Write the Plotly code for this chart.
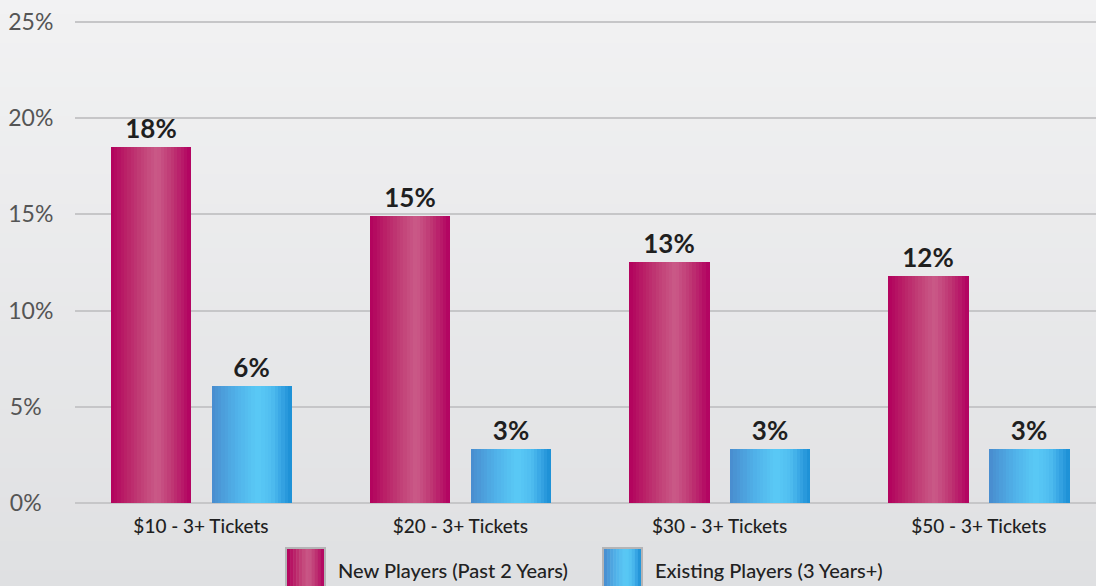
import plotly.graph_objects as go

# ---------------- data ----------------
categories = ["$10 - 3+ Tickets", "$20 - 3+ Tickets", "$30 - 3+ Tickets", "$50 - 3+ Tickets"]
new_players = [18.5, 14.9, 12.5, 11.8]
new_labels = ["18%", "15%", "13%", "12%"]
existing_players = [6.1, 2.8, 2.8, 2.8]
existing_labels = ["6%", "3%", "3%", "3%"]
series_names = ["New Players (Past 2 Years)", "Existing Players (3 Years+)"]
y_tickvals = [0, 5, 10, 15, 20, 25]
y_ticktext = ["0%", "5%", "10%", "15%", "20%", "25%"]

# ---------------- style ----------------
FONT = "Lato"
W = 0.308          # bar width in category units
GAP = 0.081        # gap between paired bars
N_SLICES = 24
M_T, M_B, M_L = 18, 81, 75
PLOT_H = 586 - M_T - M_B
PLOT_W = 1096 - M_L

mag_stops = [(0.0, (178, 0, 93)), (0.2, (186, 34, 104)), (0.4, (194, 66, 120)),
             (0.58, (202, 90, 136)), (0.78, (190, 52, 114)), (1.0, (178, 0, 96))]
blu_stops = [(0.0, (72, 140, 206)), (0.3, (80, 176, 232)), (0.58, (90, 202, 246)),
             (0.75, (80, 190, 240)), (0.9, (50, 160, 225)), (1.0, (26, 142, 212))]


def interp(stops, t):
    for (t0, c0), (t1, c1) in zip(stops[:-1], stops[1:]):
        if t0 <= t <= t1:
            f = (t - t0) / (t1 - t0) if t1 > t0 else 0
            c = [round(a + (b - a) * f) for a, b in zip(c0, c1)]
            return "rgb(%d,%d,%d)" % tuple(c)
    c = stops[-1][1]
    return "rgb(%d,%d,%d)" % c


fig = go.Figure()


def add_series(values, labels, offset, stops):
    # base bar with value labels
    fig.add_trace(go.Bar(
        x=categories, y=values, width=W, offset=offset,
        marker=dict(color=interp(stops, 0.0), line=dict(width=0)),
        text=labels, textposition="outside", constraintext="none",
        textfont=dict(family=FONT, size=26, color="#1f1f1f", weight="bold"),
        cliponaxis=False, showlegend=False, hoverinfo="skip",
    ))
    sw = W / N_SLICES
    for i in range(N_SLICES):
        fig.add_trace(go.Bar(
            x=categories, y=values, width=sw * 1.15, offset=offset + i * sw,
            marker=dict(color=interp(stops, (i + 0.5) / N_SLICES), line=dict(width=0)),
            showlegend=False, hoverinfo="skip",
        ))


add_series(new_players, new_labels, -(W + GAP / 2), mag_stops)
add_series(existing_players, existing_labels, GAP / 2, blu_stops)


def px_x(px):
    return (px - M_L) / PLOT_W


def px_y(py):
    return (586 - M_B - py) / PLOT_H


# ---------------- background gradient ----------------
shapes = []
N_BG = 40
top_c = (242, 242, 243)
bot_c = (223, 224, 226)
y0p, y1p = px_y(586), px_y(0)
x0p, x1p = px_x(0), 1.0
for i in range(N_BG):
    f = (i + 0.5) / N_BG
    c = tuple(round(a + (b - a) * f) for a, b in zip(top_c, bot_c))
    ya = y1p - (y1p - y0p) * i / N_BG
    yb = y1p - (y1p - y0p) * (i + 1) / N_BG
    shapes.append(dict(type="rect", xref="paper", yref="paper", x0=x0p, x1=x1p,
                       y0=yb - 0.002, y1=ya + 0.002, layer="below",
                       line=dict(width=0), fillcolor="rgb(%d,%d,%d)" % c))

# ---------------- custom legend ----------------
annotations = []
legend_items = [(286, 336, series_names[0], mag_stops), (603, 653, series_names[1], blu_stops)]
for bx, tx, name, stops in legend_items:
    box_w, box_top, box_bot = 39, 548, 600
    n = 12
    for i in range(n):
        shapes.append(dict(type="rect", xref="paper", yref="paper",
                           x0=px_x(bx + 1 + i * (box_w - 2) / n),
                           x1=px_x(bx + 1 + (i + 1) * (box_w - 2) / n + 0.5),
                           y0=px_y(box_bot), y1=px_y(box_top + 1),
                           line=dict(width=0), fillcolor=interp(stops, (i + 0.5) / n)))
    shapes.append(dict(type="rect", xref="paper", yref="paper",
                       x0=px_x(bx), x1=px_x(bx + box_w), y0=px_y(box_bot), y1=px_y(box_top),
                       line=dict(width=2, color="#b4b4b6"), fillcolor="rgba(0,0,0,0)"))
    annotations.append(dict(xref="paper", yref="paper", x=px_x(tx), y=px_y(570),
                            xanchor="left", yanchor="middle", text=name, showarrow=False,
                            font=dict(family=FONT, size=20, color="#222222", weight=500)))

fig.update_layout(
    width=1096, height=586,
    margin=dict(l=M_L, r=0, t=M_T, b=M_B),
    paper_bgcolor="#e9e9eb", plot_bgcolor="rgba(0,0,0,0)",
    barmode="overlay", bargap=0,
    showlegend=False,
    shapes=shapes, annotations=annotations,
    xaxis=dict(range=[-0.486, 3.452], showgrid=False, zeroline=False, showline=False,
               ticks="outside", ticklen=4, tickcolor="rgba(0,0,0,0)",
               tickfont=dict(family=FONT, size=19, color="#1f1f1f", weight=500)),
    yaxis=dict(range=[-0.1, 25.2], tickvals=y_tickvals,
               ticktext=[t if len(t) == 3 else t + "\u00a0\u00a0" for t in y_ticktext],
               showgrid=True, gridcolor="#c6c6c8", gridwidth=2,
               zeroline=True, zerolinecolor="#c6c6c8", zerolinewidth=2,
               ticks="outside", ticklen=16, tickcolor="rgba(0,0,0,0)",
               tickfont=dict(family=FONT, size=23, color="#555555")),
)

fig.write_html("out.html")
